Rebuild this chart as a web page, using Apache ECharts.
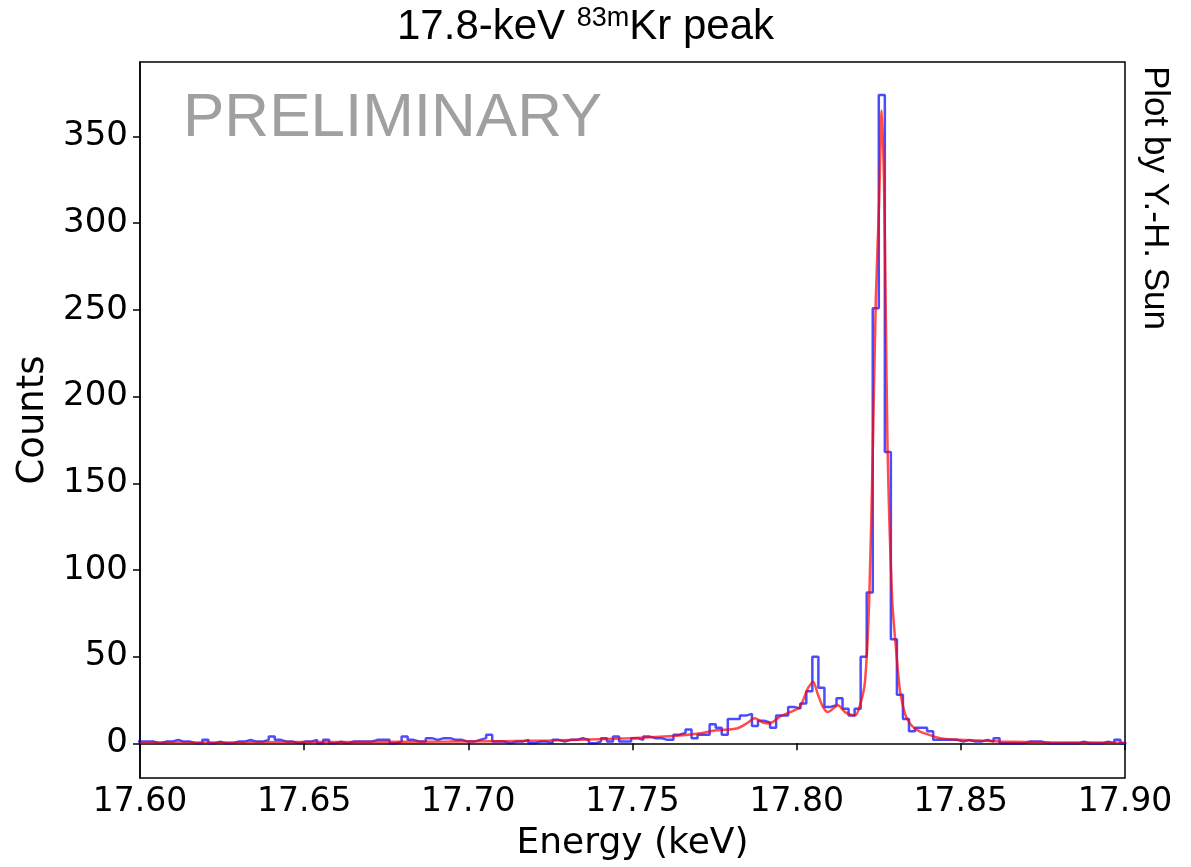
<!DOCTYPE html>
<html>
<head>
<meta charset="utf-8">
<script src="https://cdn.jsdelivr.net/npm/echarts@6/dist/echarts.min.js"></script>
<style>
  html, body { margin: 0; padding: 0; background: #fff; }
  #chart { width: 1191px; height: 867px; }
</style>
</head>
<body>
<div id="chart"></div>
<script>
// histogram binning (keV)
const binStart = 17.59874
const binWidth = 0.0018396

// counts per bin
const binCounts = [
  1, 1, 1, 0, 1, 1, 2, 1, 1, 0,
  0, 2, 0, 1, 0, 0, 1, 1, 2, 1,
  1, 2, 4, 2, 1, 1, 0, 1, 1, 2,
  0, 2, 0, 1, 0, 1, 1, 1, 1, 2,
  2, 2, 0, 1, 4, 2, 1, 1, 3, 2,
  3, 3, 2, 2, 1, 1, 2, 3, 5, 1,
  1, 0, 1, 1, 2, 0, 1, 1, 0, 2,
  1, 2, 2, 3, 2, 0, 1, 3, 1, 4,
  1, 1, 3, 2, 4, 3, 3, 2, 2, 5,
  6, 8, 3, 5, 5, 11, 9, 5, 14, 14,
  16, 17, 10, 13, 12, 9, 16, 16, 21, 20,
  23, 30, 50, 32, 21, 22, 26, 20, 16, 20,
  50, 87, 251, 374, 168, 60, 28, 14, 7, 9,
  9, 7, 2, 2, 2, 2, 1, 2, 1, 1,
  2, 1, 3, 0, 0, 0, 0, 1, 1, 1,
  0, 0, 0, 0, 0, 0, 1, 0, 0, 0,
  1, 0, 2, 0
]

// fitted curve
const fitEnergy = [
  17.6, 17.6335, 17.664, 17.6944, 17.7249, 17.7492, 17.7623, 17.7696, 17.7757, 17.7818,
  17.7848, 17.7872, 17.7897, 17.7918, 17.7949, 17.798, 17.801, 17.8034, 17.805, 17.8065,
  17.808, 17.8095, 17.8126, 17.8147, 17.8178, 17.8193, 17.8208, 17.8221, 17.8232, 17.8241,
  17.8251, 17.8259, 17.8266, 17.8271, 17.8277, 17.8291, 17.8305, 17.8315, 17.833, 17.8345,
  17.836, 17.8376, 17.8397, 17.8437, 17.8497, 17.8619, 17.8772, 17.9
]
const fitCounts = [
  0.5, 0.6, 0.8, 1.0, 1.6, 2.9, 4.2, 5.5, 7.5, 8.6,
  11.5, 14.4, 12, 11.5, 15.4, 18, 21, 31.7, 35.5, 28,
  21, 18, 22, 18, 16, 22, 35.5, 83, 170, 256,
  311, 365, 324, 256, 168, 83, 49, 30, 17, 11.5,
  8.5, 6.8, 5.3, 3, 2, 1.1, 0.6, 0.3
]

const yTicks = [0, 50, 100, 150, 200, 250, 300, 350]

const histData = []
binCounts.forEach((c, i) => histData.push([binStart + i * binWidth, c]))
histData.push([binStart + binCounts.length * binWidth, binCounts[binCounts.length - 1]])

const fitData = fitEnergy.map((e, i) => [e, fitCounts[i]])

const font = 'DejaVu Sans'
const chart = echarts.init(document.getElementById('chart'))

chart.setOption({
  animation: false,
  title: {
    text: '17.8-keV {sup|83m}Kr peak',
    left: 392,
    top: 0,
    textStyle: {
      fontFamily: 'Liberation Sans',
      fontSize: 42,
      fontWeight: 'normal',
      color: '#000',
      rich: {
        sup: { fontFamily: 'Liberation Sans', fontSize: 27, verticalAlign: 'top', padding: [0, 0, 18, 0], color: '#000' }
      }
    }
  },
  grid: {
    left: 140, right: 66, top: 62, bottom: 87,
    show: true, borderColor: '#000', borderWidth: 1.5
  },
  xAxis: {
    type: 'value',
    min: 17.6, max: 17.9, interval: 0.05,
    name: 'Energy (keV)',
    nameLocation: 'middle',
    nameGap: 48,
    nameTextStyle: { fontFamily: font, fontSize: 36, color: '#000' },
    axisLine: { lineStyle: { color: '#000', width: 1.5 } },
    axisTick: { inside: false, length: 7, lineStyle: { color: '#000', width: 1.5 } },
    axisLabel: { fontFamily: font, fontSize: 33, color: '#000', margin: 8, formatter: v => v.toFixed(2) },
    splitLine: { show: false }
  },
  yAxis: {
    type: 'value',
    min: -20, max: 393,
    name: 'Counts',
    nameLocation: 'middle',
    nameGap: 84,
    nameTextStyle: { fontFamily: font, fontSize: 37, color: '#000' },
    axisLine: { show: true, lineStyle: { color: '#000', width: 1.5 } },
    axisTick: { show: true, inside: false, length: 7, customValues: yTicks, lineStyle: { color: '#000', width: 1.5 } },
    axisLabel: { fontFamily: font, fontSize: 34, color: '#000', margin: 12, customValues: yTicks },
    splitLine: { show: false }
  },
  series: [
    {
      name: 'data',
      type: 'line',
      step: 'end',
      data: histData,
      symbol: 'none',
      clip: true,
      lineStyle: { color: 'rgba(0,0,255,0.7)', width: 2.5 },
      z: 2
    },
    {
      name: 'fit',
      type: 'line',
      data: fitData,
      smooth: 0.25,
      symbol: 'none',
      clip: true,
      lineStyle: { color: 'rgba(255,0,0,0.7)', width: 2.5 },
      z: 3
    }
  ],
  graphic: [
    {
      type: 'text',
      left: 183, top: 88,
      style: { text: 'PRELIMINARY', fontFamily: 'Liberation Sans', fontSize: 62, fill: '#a0a0a0' }
    },
    {
      type: 'text',
      x: 1172, y: 66,
      rotation: -Math.PI / 2,
      style: { text: 'Plot by Y.-H. Sun', fontFamily: 'Liberation Sans', fontSize: 35, fill: '#000', align: 'left', verticalAlign: 'top' }
    }
  ]
})

window.addEventListener('resize', () => chart.resize())
</script>
</body>
</html>
